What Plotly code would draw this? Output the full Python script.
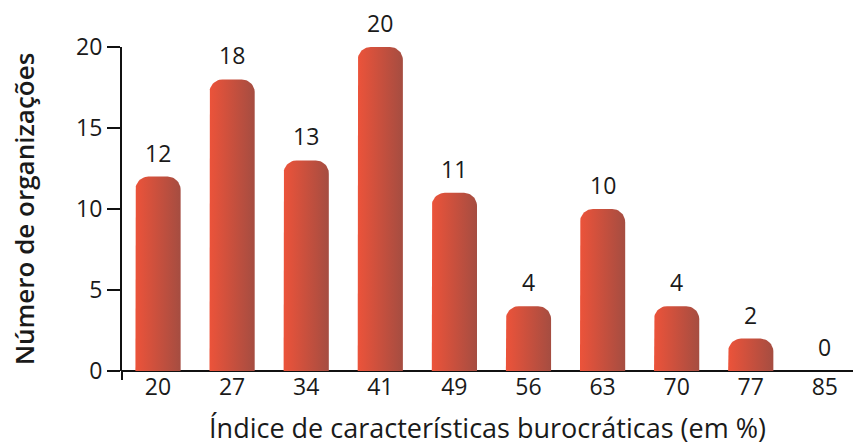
import numpy as np
import plotly.graph_objects as go

categories = ["20", "27", "34", "41", "49", "56", "63", "70", "77", "85"]
values = [12, 18, 13, 20, 11, 4, 10, 4, 2, 0]
y_ticks = [0, 5, 10, 15, 20]

x_title = "Índice de características burocráticas (em %)"
y_title = "Número de organizações"

# layout geometry (px)
W, H = 853, 446
ml, mr, mt, mb = 122, 0, 47, 75
x_range = [-0.486, 9.38]
y_range = [0, 20]
px_x = (W - ml - mr) / (x_range[1] - x_range[0])
px_y = (H - mt - mb) / (y_range[1] - y_range[0])

half_w = 0.305
r_px = 13
rx, ry = r_px / px_x, r_px / px_y

fig = go.Figure()

for i, v in enumerate(values):
    if v <= 0:
        continue
    c = i
    rr = min(ry, v)
    t1 = np.linspace(np.pi, np.pi / 2, 14)
    t2 = np.linspace(np.pi / 2, 0, 14)
    xs = [c - half_w, c - half_w]
    ys = [0, v - rr]
    xs += list(c - half_w + rx + rx * np.cos(t1))
    ys += list(v - rr + rr * np.sin(t1))
    xs += list(c + half_w - rx + rx * np.cos(t2))
    ys += list(v - rr + rr * np.sin(t2))
    xs += [c + half_w, c - half_w]
    ys += [0, 0]
    fig.add_trace(go.Scatter(
        x=xs, y=ys, mode="lines", fill="toself",
        line=dict(width=0),
        fillgradient=dict(type="horizontal",
                          colorscale=[[0, "#EC533A"], [1, "#A54D41"]]),
        hoverinfo="skip", showlegend=False,
    ))

for i, v in enumerate(values):
    fig.add_annotation(x=i, y=v, text=str(v), showarrow=False,
                       yanchor="bottom", yshift=6,
                       font=dict(family="Open Sans", size=23, color="#1a1a1a"))

# y-axis line extension below the x axis
fig.add_shape(type="line", xref="paper", yref="paper", x0=0, x1=0,
              y0=0, y1=-0.028, line=dict(color="#111", width=2))

fig.update_layout(
    width=W, height=H,
    margin=dict(l=ml, r=mr, t=mt, b=mb),
    paper_bgcolor="white", plot_bgcolor="white",
    showlegend=False,
    xaxis=dict(range=x_range, tickmode="array",
               tickvals=list(range(len(categories))), ticktext=categories,
               showgrid=False, zeroline=False, showline=False, ticks="",
               tickfont=dict(family="Open Sans", size=23, color="#1a1a1a"),
               title=dict(text=x_title, standoff=22,
                          font=dict(family="Open Sans", size=27, color="#1a1a1a",
                                    weight=500))),
    yaxis=dict(range=y_range, tickvals=y_ticks, showgrid=False,
               zeroline=True, zerolinecolor="#111", zerolinewidth=2,
               showline=True, linecolor="#111", linewidth=2,
               ticks="outside", ticklen=13, tickwidth=2, tickcolor="#111",
               tickfont=dict(family="Open Sans", size=23, color="#1a1a1a"),
               title=dict(text=y_title, standoff=34,
                          font=dict(family="Open Sans", size=26, color="#1a1a1a",
                                    weight=600))),
)

fig.write_html("out.html", config={"displayModeBar": False},
               post_script="document.body.style.margin='0';document.body.style.overflow='hidden';")
